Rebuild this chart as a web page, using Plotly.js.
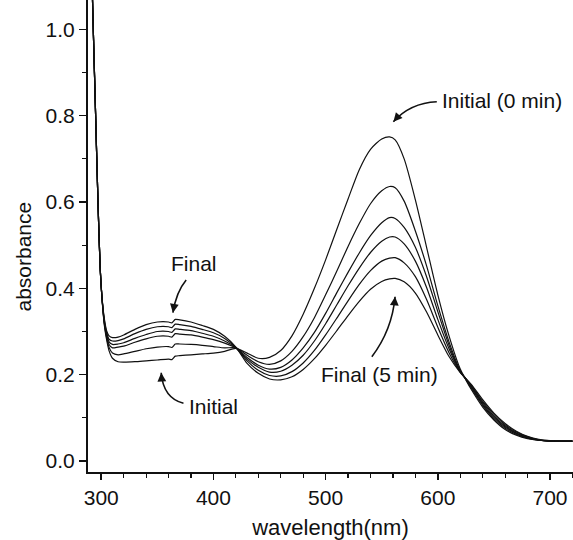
<!DOCTYPE html>
<html><head><meta charset="utf-8">
<script src="https://cdn.plot.ly/plotly-3.0.1.min.js"></script>
<style>html,body{margin:0;padding:0;background:#fff}#chart{width:573px;height:540px}</style>
</head><body><div id="chart"></div>
<script>
// wavelength grid (nm)
const wavelength = [291,293,295,297,299,301,303,305,307,310,315,320,330,340,350,360,363,366,370,380,390,400,410,420,430,440,450,460,470,480,490,500,510,520,530,540,550,557,562,570,580,590,600,610,620,625,630,640,650,660,670,680,690,700,710,720];

// absorbance spectra (initial 0 min -> final 5 min)
const abs0 = [1.19,0.99,0.80,0.61,0.45,0.365,0.31,0.278,0.255,0.238,0.230,0.229,0.230,0.232,0.234,0.236,0.235,0.243,0.244,0.246,0.248,0.250,0.254,0.261,0.250,0.238,0.240,0.256,0.290,0.340,0.400,0.466,0.537,0.607,0.675,0.722,0.746,0.751,0.744,0.700,0.605,0.495,0.385,0.290,0.213,0.188,0.165,0.125,0.095,0.073,0.060,0.052,0.048,0.046,0.046,0.046];
const abs1 = [1.19,0.99,0.80,0.61,0.45,0.366,0.313,0.283,0.263,0.250,0.246,0.248,0.254,0.260,0.264,0.265,0.263,0.271,0.271,0.270,0.268,0.265,0.262,0.262,0.245,0.230,0.224,0.232,0.254,0.288,0.332,0.385,0.440,0.497,0.550,0.596,0.626,0.636,0.633,0.602,0.533,0.452,0.360,0.276,0.209,0.189,0.168,0.129,0.098,0.076,0.062,0.053,0.048,0.046,0.046,0.046];
const abs2 = [1.19,0.99,0.80,0.61,0.45,0.367,0.316,0.288,0.270,0.262,0.264,0.266,0.275,0.283,0.289,0.289,0.287,0.295,0.294,0.292,0.287,0.281,0.273,0.262,0.240,0.222,0.213,0.217,0.234,0.262,0.298,0.342,0.390,0.437,0.482,0.522,0.552,0.564,0.562,0.541,0.495,0.427,0.346,0.268,0.207,0.190,0.171,0.132,0.101,0.079,0.064,0.054,0.048,0.046,0.046,0.046];
const abs3 = [1.19,0.99,0.80,0.61,0.45,0.368,0.318,0.292,0.276,0.270,0.271,0.274,0.284,0.293,0.300,0.300,0.298,0.306,0.305,0.302,0.296,0.289,0.278,0.263,0.236,0.217,0.206,0.208,0.222,0.245,0.278,0.318,0.362,0.406,0.447,0.483,0.509,0.519,0.519,0.503,0.463,0.402,0.328,0.260,0.207,0.190,0.173,0.135,0.104,0.081,0.065,0.055,0.049,0.046,0.046,0.046];
const abs4 = [1.19,0.99,0.80,0.61,0.45,0.369,0.322,0.296,0.282,0.278,0.279,0.283,0.295,0.305,0.311,0.311,0.309,0.317,0.316,0.312,0.305,0.297,0.284,0.263,0.232,0.210,0.198,0.197,0.207,0.227,0.256,0.292,0.331,0.371,0.409,0.441,0.463,0.470,0.471,0.459,0.427,0.374,0.310,0.251,0.206,0.191,0.175,0.138,0.108,0.084,0.067,0.056,0.049,0.047,0.046,0.046];
const abs5 = [1.19,0.99,0.80,0.61,0.45,0.370,0.326,0.300,0.290,0.286,0.287,0.292,0.305,0.316,0.322,0.322,0.320,0.328,0.327,0.322,0.314,0.305,0.289,0.264,0.226,0.203,0.190,0.188,0.195,0.212,0.237,0.268,0.302,0.337,0.370,0.398,0.416,0.422,0.423,0.415,0.389,0.345,0.292,0.242,0.205,0.191,0.177,0.142,0.111,0.087,0.069,0.057,0.050,0.047,0.046,0.046];

const xTickVals = [300,400,500,600,700];
const xTickLabels = ['300','400','500','600','700'];
const yTickVals = [0,0.2,0.4,0.6,0.8,1.0];
const yTickLabels = ['0.0','0.2','0.4','0.6','0.8','1.0'];

const FONT = 'Liberation Sans, Arial, sans-serif';
const INK = '#111';

const series = [abs0, abs1, abs2, abs3, abs4, abs5];
const traces = series.map(s => ({
  x: wavelength, y: s, type: 'scatter', mode: 'lines',
  line: {color: INK, width: 1.2, shape: 'spline', smoothing: 0.7},
  hoverinfo: 'skip', showlegend: false
}));

// curved arrow bodies (data coordinates)
const arrowPaths = [
  'M 599.1,0.8323 Q 575.3,0.8293 560.4,0.7860',
  'M 541.2,0.2416 Q 559.2,0.3035 561.9,0.3806',
  'M 375.7,0.4193 Q 366.8,0.3915 363.9,0.3435',
  'M 373.3,0.1337 Q 355.2,0.1459 353.45,0.2045'
];
const shapes = arrowPaths.map(p => ({type: 'path', xref: 'x', yref: 'y', path: p, line: {color: INK, width: 1.6}}));

function head(x, y, ax, ay) {
  return {x, y, xref: 'x', yref: 'y', text: '', showarrow: true, arrowhead: 2, arrowsize: 1.1, arrowwidth: 1.6, arrowcolor: INK, ax, ay, standoff: 0};
}
function label(text, x, y, xanchor) {
  return {x, y, xref: 'x', yref: 'y', text, showarrow: false, xanchor: xanchor || 'center', yanchor: 'middle', font: {family: FONT, size: 21, color: INK}};
}

const annotations = [
  label('Initial (0 min)', 602, 0.836, 'left'),
  label('Final (5 min)', 547.7, 0.2015),
  label('Final', 382.9, 0.4564),
  label('Initial', 400.2, 0.1262),
  head(560.4, 0.7860, 5.3, -6),
  head(561.9, 0.3806, -0.7, 8),
  head(363.9, 0.3435, 1.3, -7.9),
  head(353.45, 0.2045, 0.6, 8),
  {xref: 'paper', yref: 'paper', x: -0.135, y: 0.4555, text: 'absorbance', textangle: -90, showarrow: false,
   xanchor: 'center', yanchor: 'middle', font: {family: FONT, size: 21, color: INK}}
];

const layout = {
  width: 573, height: 540,
  margin: {l: 88, r: 0, t: 0, b: 68},
  paper_bgcolor: '#fff', plot_bgcolor: '#fff',
  font: {family: FONT, size: 21, color: INK},
  xaxis: {
    range: [288.2, 720.5], showgrid: false, zeroline: false,
    showline: true, linecolor: INK, linewidth: 2, mirror: false,
    tickmode: 'array', tickvals: xTickVals, ticktext: xTickLabels,
    ticks: 'outside', ticklen: 6, tickwidth: 1.5, tickcolor: INK,
    minor: {dtick: 20, tick0: 300, ticks: 'outside', ticklen: 4, tickwidth: 1.2, tickcolor: INK, showgrid: false},
    tickfont: {family: FONT, size: 21, color: INK},
    title: {text: 'wavelength(nm)', font: {family: FONT, size: 22, color: INK}, standoff: 14}
  },
  yaxis: {
    range: [-0.0255, 1.068], showgrid: false, zeroline: false,
    showline: true, linecolor: INK, linewidth: 2, mirror: false,
    tickmode: 'array', tickvals: yTickVals, ticktext: yTickLabels,
    ticks: 'outside', ticklen: 7, tickwidth: 1.5, tickcolor: INK,
    minor: {dtick: 0.1, tick0: 0, ticks: 'outside', ticklen: 4, tickwidth: 1.2, tickcolor: INK, showgrid: false},
    tickfont: {family: FONT, size: 21, color: INK}
  },
  shapes, annotations
};

Plotly.newPlot('chart', traces, layout, {staticPlot: true, displayModeBar: false});
</script>
</body></html>
